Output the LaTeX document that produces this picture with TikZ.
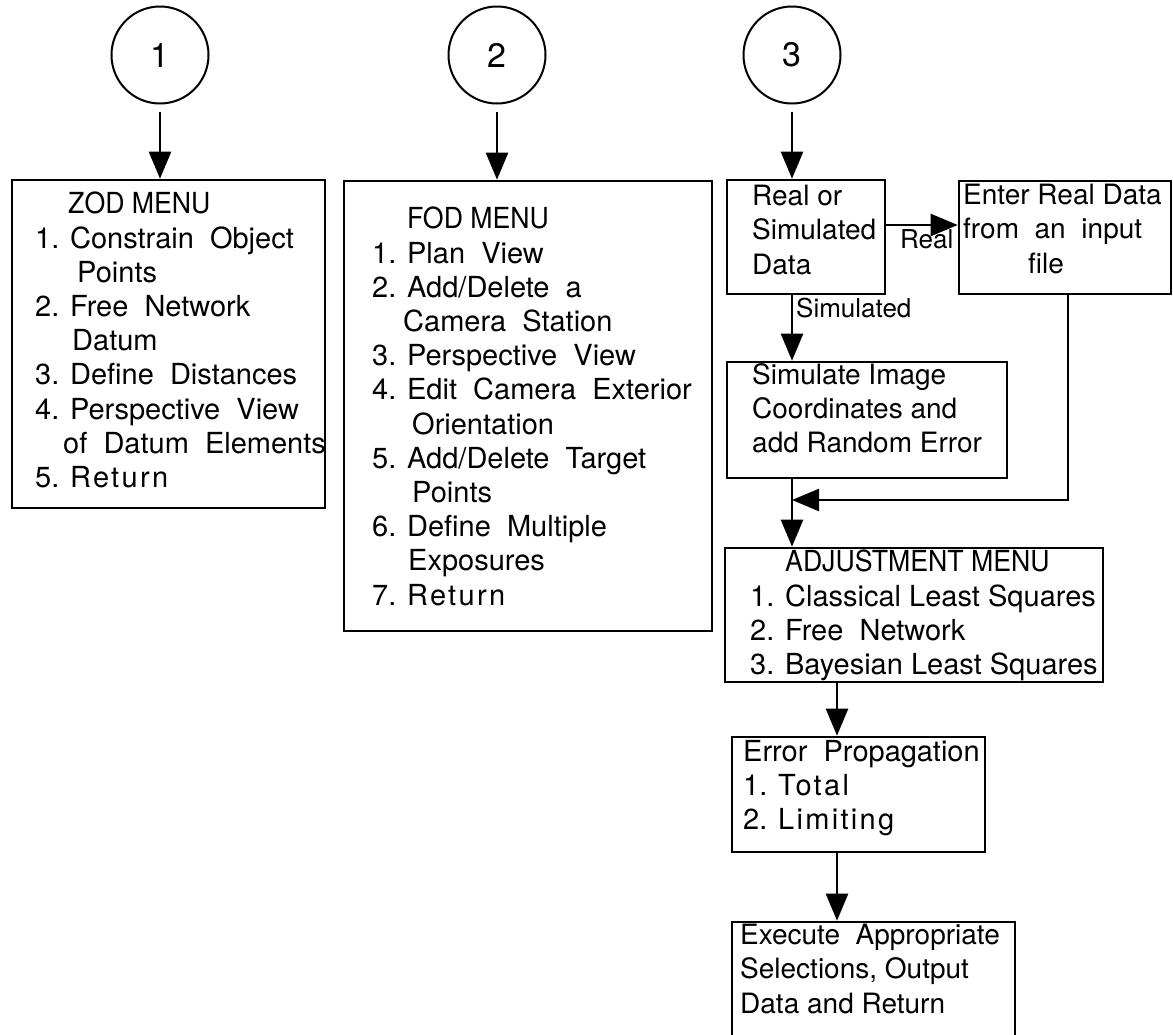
\documentclass[tikz,border=0pt]{standalone}
\usepackage{fontspec}
\setmainfont{TeX Gyre Heros}
\usepackage{graphicx}
\usetikzlibrary{arrows.meta,fit}
% condensed menu headings and letter-spaced words
\newcommand{\ttl}[1]{\scalebox{0.92}[1]{#1}}
\newcommand{\spc}[1]{{\addfontfeatures{LetterSpace=8}#1}}

\begin{document}
\begin{tikzpicture}[x=1pt,y=-1pt,
  box/.style={draw, line width=2.6pt, inner sep=0pt},
  txt/.style={anchor=north west, inner sep=0pt, align=left,
              font=\fontsize{29}{34.2}\selectfont},
  txtb/.style={anchor=north west, inner sep=0pt, align=left,
               font=\fontsize{28}{34.2}\selectfont},
  lbl/.style={anchor=base west, inner sep=0pt, font=\fontsize{26}{30}\selectfont},
  num/.style={draw, circle, line width=2pt, minimum size=97pt, inner sep=0pt,
              font=\fontsize{34}{40}\selectfont},
  flow/.style={line width=2.4pt, -{Triangle[length=27pt,width=22pt]}},
  wire/.style={line width=2.4pt}
]
\path[fill=white, use as bounding box] (0,0) rectangle (1173,1034);

% entry points
\node[num] (c1) at (160,55) {1};
\node[num] (c2) at (497,55) {2};
\node[num] (c3) at (792,55) {3};

% boxes
\node[box, fit={(12,180) (325,508)}] (zod) {};
\node[box, fit={(344,181) (712,631)}] (fod) {};
\node[box, fit={(727,180) (885,294)}] (rs) {};
\node[box, fit={(959,181) (1171,294)}] (enter) {};
\node[box, fit={(727,362) (1007,478)}] (sim) {};
\node[box, fit={(725,548) (1103,682)}] (adj) {};
\node[box, fit={(732,737) (985,852)}] (err) {};
\node[box, fit={(732,922) (1015,1070)}] (exec) {};

% box contents
\node[txt] (zodt) at (35,192) {\hspace*{33pt}\ttl{ZOD MENU}\\
  1. Constrain~ Object\\
  \hspace*{42pt}Points\\
  2. Free~ Network\\
  \hspace*{37pt}Datum\\
  3. Define~ Distances\\
  4. Perspective~ View\\
  \hspace*{28pt}of~ Datum~ Elements\\
  5. \spc{Return}};

\node[txt] (fodt) at (372,207) {\hspace*{35pt}\ttl{FOD MENU}\\
  1. Plan~ View\\
  2. Add/Delete~ a\\
  \hspace*{31pt}Camera~ Station\\
  3. Perspective~ View\\
  4. Edit~ Camera~ Exterior\\
  \hspace*{40pt}Orientation\\
  5. Add/Delete~ Target\\
  \hspace*{40pt}Points\\
  6. Define~ Multiple\\
  \hspace*{36pt}Exposures\\
  7. \spc{Return}};

\node[txtb] (rst) at (752,185) {Real or\\Simulated\\Data};
\node[txtb] (entert) at (963,184) {Enter Real Data\\from~ an~ input\\\hspace*{65pt}file};
\node[txtb] (simt) at (752,363) {Simulate Image\\Coordinates and\\add Random Error};
\node[txt] (adjt) at (750,550) {\hspace*{35pt}\ttl{ADJUSTMENT MENU}\\
  1. Classical Least Squares\\
  2. Free~ Network\\
  3. Bayesian Least Squares};
\node[txt] (errt) at (743,740) {Error~ Propagation\\1. \spc{Total}\\2. \spc{Limiting}};
\node[txtb] (exect) at (740,924) {Execute~ Appropriate\\Selections, Output\\Data and Return};

% branch labels
\node[lbl] (lreal) at (900,248) {Real};
\node[lbl] (lsim) at (796,317) {Simulated};

% helper coordinates
\coordinate (rlev) at (0,225);
\coordinate (join) at (792,500);
\coordinate (ebend) at (1068,500);
\coordinate (ecol) at (837,0);

% connectors
\draw[flow, shorten <=7pt] (c1.south) -- (c1.south |- zod.north);
\draw[flow, shorten <=7pt] (c2.south) -- (c2.south |- fod.north);
\draw[flow, shorten <=7pt] (c3.south) -- (c3.south |- rs.north);
\draw[flow] (rs.east |- rlev) -- (enter.west |- rlev);
\draw[flow] (c3.south |- rs.south) -- (c3.south |- sim.north);
\draw[flow] (enter.south -| ebend) -- (ebend) -- (join);
\draw[flow] (sim.south -| join) -- (join |- adj.north);
\draw[flow] (adj.south -| ecol) -- (err.north -| ecol);
\draw[flow] (err.south -| ecol) -- (exec.north -| ecol);
\end{tikzpicture}
\end{document}
